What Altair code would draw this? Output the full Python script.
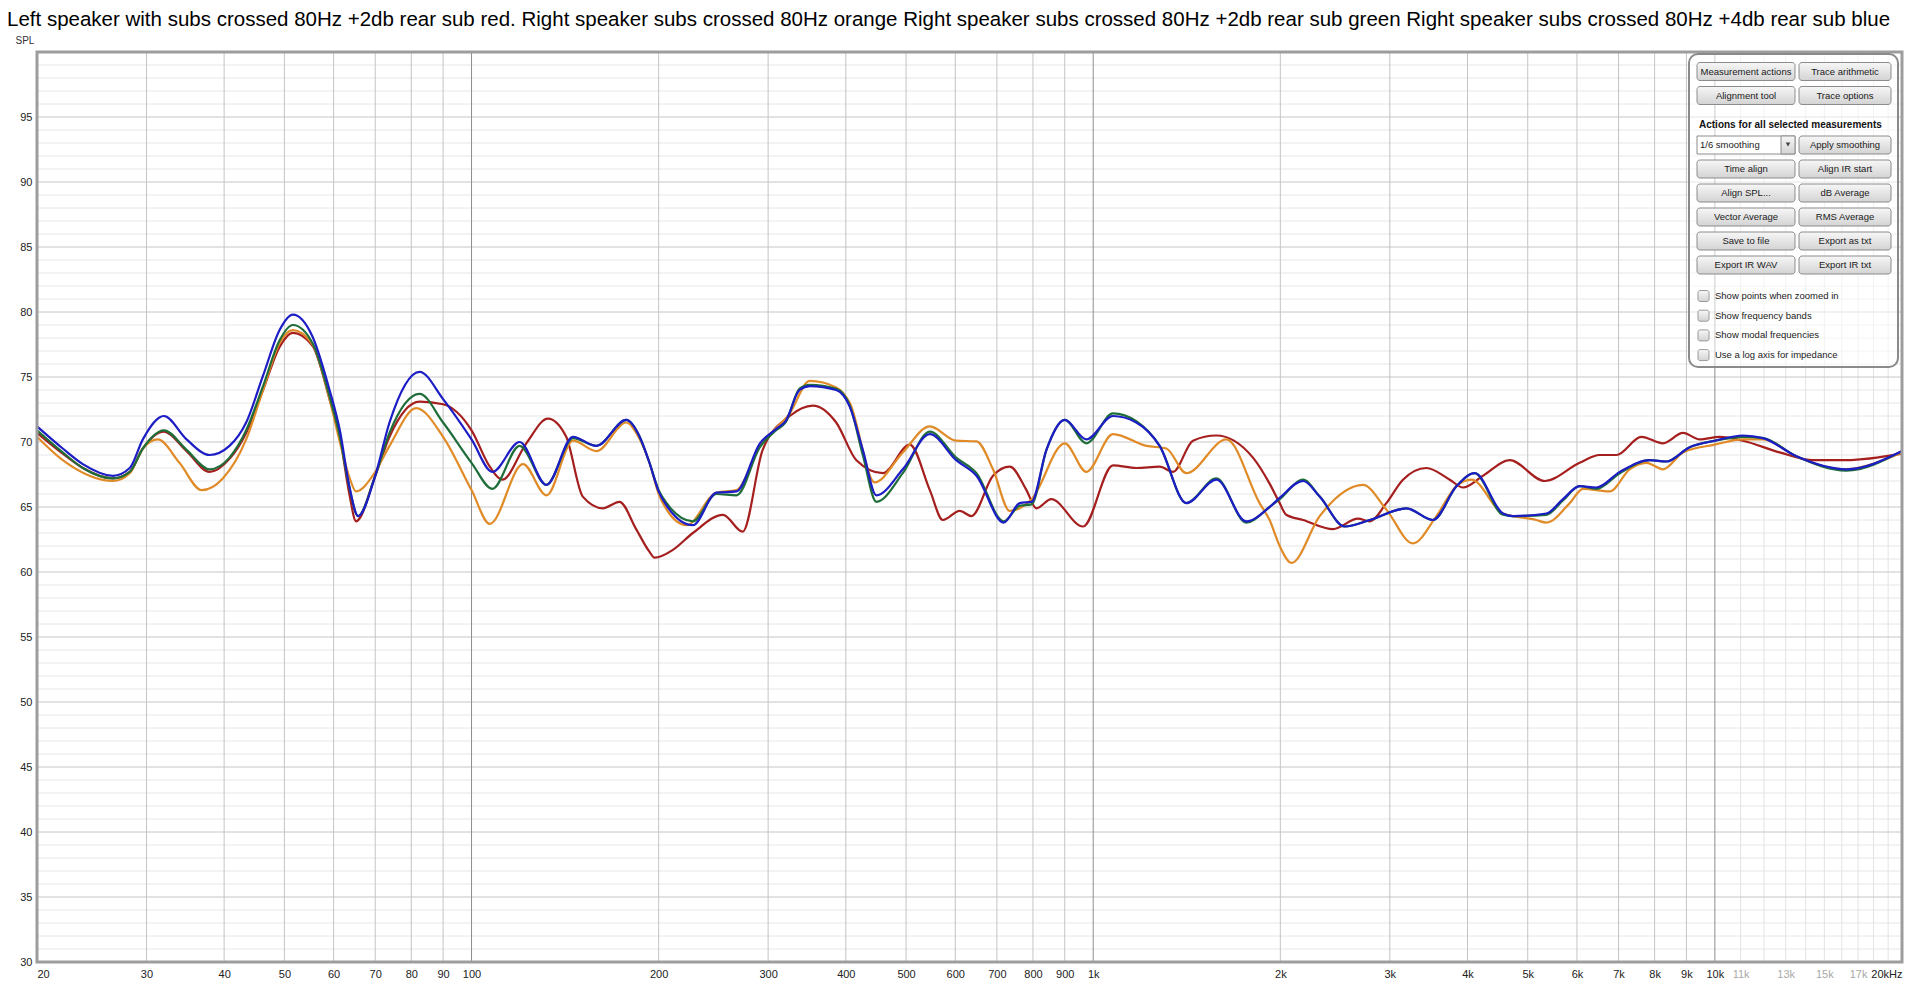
import altair as alt
import pandas as pd

alt.data_transformers.disable_max_rows()

TITLE = ("Left speaker with subs crossed 80Hz +2db rear sub red. Right speaker subs crossed 80Hz orange "
         "Right speaker subs crossed 80Hz +2db rear sub green Right speaker subs crossed 80Hz +4db rear sub blue")

series_names = ["Left +2db rear sub (red)", "Right (orange)", "Right +2db rear sub (green)", "Right +4db rear sub (blue)"]
series_colors = ["#a51f1f", "#e08b27", "#1f6e3a", "#1d1dc6"]

red_freq = [20, 22, 23.7, 26.5, 28.2, 29.6, 32, 34.8, 37.9, 40.8,
            43.4, 46.2, 49.1, 51.6, 55.5, 59.1, 61.4, 63.6, 65.2, 70,
            73.8, 82.5, 90, 100, 107, 112, 122.5, 132.7, 142, 151,
            162.7, 173, 184, 193, 197, 210.8, 227, 253.8, 273, 294,
            325, 354, 386, 416, 459, 507, 546, 573, 610, 637,
            690, 734, 781, 810, 856, 963, 1076, 1173, 1279, 1344,
            1447, 1578, 1807, 1922, 1995, 2044, 2176, 2431, 2667, 2785,
            2962, 3150, 3435, 3746, 3934, 4236, 4676, 5325, 6060, 6528,
            6942, 7618, 8253, 8888, 9452, 10178, 11098, 12712, 14384, 16276,
            20000]
red_spl = [70.7, 69.1, 68.0, 67.2, 67.7, 69.5, 70.8, 69.3, 67.7, 68.7,
           70.7, 74.0, 77.3, 78.4, 77.4, 73.3, 70.4, 66.0, 63.9, 67.4,
           70.4, 73.1, 72.9, 70.9, 68.1, 67.1, 69.9, 71.8, 70.4, 65.8,
           64.9, 65.4, 63.3, 61.6, 61.1, 61.7, 63.0, 64.4, 63.1, 69.4,
           72.0, 72.8, 71.5, 68.6, 67.6, 69.8, 66.3, 64.0, 64.7, 64.3,
           67.4, 68.1, 66.3, 64.9, 65.6, 63.5, 68.2, 68.0, 68.1, 67.7,
           70.1, 70.5, 68.8, 66.8, 65.3, 64.4, 64.0, 63.3, 64.1, 63.9,
           65.3, 67.1, 68.0, 67.1, 66.5, 67.4, 68.6, 67.0, 68.4, 69.0,
           69.0, 70.4, 69.9, 70.7, 70.2, 70.4, 70.1, 69.2, 68.6, 68.6,
           69.1]

orange_freq = [20, 22, 26.5, 28.2, 29.6, 31.3, 33.9, 36.8, 39.8, 43.4,
               46.2, 49.1, 51.6, 55.5, 59.1, 61.4, 63.6, 65.2, 70, 73.8,
               81.5, 90, 100, 107, 121, 132, 145.6, 158.8, 177.4, 186,
               193, 200, 206, 221.7, 247.6, 266.8, 291, 325, 350, 386,
               406, 445, 494, 546, 602, 649, 690, 734, 796, 900,
               975, 1076, 1218, 1311, 1412, 1638, 1852, 1922, 1995, 2084,
               2314, 2716, 2962, 3268, 3565, 3840, 4058, 4562, 5162, 5357,
               5843, 6136, 6775, 7293, 7760, 8253, 8888, 10000, 11098, 11953,
               13524, 16070, 20000]
orange_spl = [70.4, 68.6, 67.0, 67.6, 69.5, 70.2, 68.4, 66.3, 67.2, 70.2,
              74.0, 77.6, 78.6, 77.5, 73.3, 70.0, 67.3, 66.2, 67.7, 69.7,
              72.6, 70.4, 66.3, 63.7, 68.3, 65.9, 70.1, 69.3, 71.5, 70.3,
              68.5, 66.0, 64.8, 63.6, 66.1, 66.3, 69.7, 72.2, 74.7, 74.2,
              73.0, 66.9, 69.2, 71.2, 70.1, 70.05, 67.9, 64.7, 65.6, 69.9,
              67.7, 70.6, 69.7, 69.5, 67.6, 70.2, 65.3, 64.0, 62.0, 60.7,
              64.3, 66.7, 64.8, 62.2, 64.3, 66.6, 67.1, 64.5, 64.0, 63.8,
              65.3, 66.4, 66.2, 67.9, 68.4, 67.9, 69.2, 69.8, 70.2, 70.2,
              68.9, 67.9, 69.2]

green_freq = [20, 22, 23.7, 26.5, 28.2, 29.6, 32, 34.8, 37.9, 40.8,
              43.4, 46.2, 49.1, 51.6, 55.5, 59.1, 61.4, 63.6, 65.7, 70,
              73.8, 82.5, 90, 100, 108, 119.5, 132, 145.6, 158.8, 177.4,
              186, 193, 200, 206, 227, 247.6, 266.8, 291, 309, 320,
              337, 350, 386, 406, 426, 448, 494, 546, 602, 649,
              718, 762, 796, 841, 900, 975, 1076, 1173, 1279, 1412,
              1578, 1763, 1922, 1995, 2176, 2314, 2540, 2785, 3190, 3520,
              3840, 4108, 4562, 4734, 5357, 5697, 6060, 6448, 7032, 7857,
              8356, 9108, 10000, 11098, 11953, 13524, 16276, 20000]
green_spl = [70.9, 69.2, 68.0, 67.2, 67.7, 69.5, 70.9, 69.4, 67.9, 68.8,
             70.9, 74.3, 77.8, 79.0, 77.6, 73.5, 70.4, 66.5, 64.3, 67.4,
             70.7, 73.7, 71.5, 68.4, 66.4, 69.7, 66.7, 70.3, 69.7, 71.7,
             70.5, 68.5, 66.3, 65.3, 63.9, 66.0, 65.9, 69.6, 70.9, 71.5,
             74.1, 74.4, 74.1, 72.8, 69.0, 65.4, 67.6, 70.8, 68.8, 67.6,
             63.9, 65.1, 65.2, 69.4, 71.7, 69.9, 72.2, 71.6, 69.7, 65.3,
             67.2, 63.8, 65.0, 65.6, 67.1, 65.8, 63.5, 64.0, 64.9, 64.0,
             66.6, 67.6, 64.4, 64.3, 64.4, 65.5, 66.6, 66.4, 67.6, 68.6,
             68.5, 69.6, 70.1, 70.4, 70.3, 68.9, 67.8, 69.3]

blue_freq = [20, 22, 23.7, 26.5, 28.2, 29.6, 32, 34.8, 37.9, 40.8,
             43.4, 46.2, 49.1, 51.6, 55.5, 59.1, 61.4, 63.6, 65.7, 70,
             73.8, 82.5, 90, 100, 108, 119.5, 132, 145.6, 158.8, 177.4,
             186, 193, 200, 206, 227, 247.6, 266.8, 291, 309, 320,
             337, 350, 386, 406, 426, 448, 494, 546, 602, 649,
             718, 762, 796, 841, 900, 975, 1076, 1173, 1279, 1412,
             1578, 1763, 1922, 1995, 2176, 2314, 2540, 2785, 3190, 3520,
             3840, 4108, 4562, 4734, 5357, 5697, 6060, 6448, 7032, 7857,
             8356, 9108, 10000, 11098, 11953, 13524, 16276, 20000]
blue_spl = [71.2, 69.5, 68.3, 67.4, 68.0, 70.2, 72.0, 70.2, 69.0, 69.7,
            71.5, 75.1, 78.6, 79.8, 78.1, 74.0, 70.9, 66.6, 64.3, 67.4,
            71.5, 75.4, 73.3, 70.2, 67.7, 70.0, 66.7, 70.4, 69.7, 71.7,
            70.5, 68.5, 66.2, 65.1, 63.6, 66.1, 66.2, 69.9, 71.0, 71.6,
            74.0, 74.3, 74.0, 72.7, 69.4, 65.9, 67.9, 70.6, 68.6, 67.4,
            63.8, 65.3, 65.4, 69.4, 71.7, 70.2, 72.0, 71.5, 69.7, 65.3,
            67.1, 63.9, 65.0, 65.7, 67.0, 65.8, 63.5, 64.0, 64.9, 64.0,
            66.6, 67.6, 64.5, 64.3, 64.5, 65.6, 66.6, 66.5, 67.7, 68.6,
            68.5, 69.6, 70.1, 70.5, 70.3, 68.9, 67.9, 69.3]

x_tick_values = [20, 30, 40, 50, 60, 70, 80, 90, 100, 200, 300, 400, 500, 600, 700, 800, 900,
                 1000, 2000, 3000, 4000, 5000, 6000, 7000, 8000, 9000, 10000, 20000]
x_fine_values = [11000, 12000, 13000, 14000, 15000, 16000, 17000, 18000, 19000]
x_fine_labels = [11000, 13000, 15000, 17000]
x_decades = [100, 1000, 10000]
y_tick_values = [30, 35, 40, 45, 50, 55, 60, 65, 70, 75, 80, 85, 90, 95]

panel_top_buttons = [("Measurement actions", "Trace arithmetic"), ("Alignment tool", "Trace options")]
panel_heading = "Actions for all selected measurements"
panel_dropdown = "1/6 smoothing"
panel_apply = "Apply smoothing"
panel_buttons = [("Time align", "Align IR start"), ("Align SPL...", "dB Average"),
                 ("Vector Average", "RMS Average"), ("Save to file", "Export as txt"),
                 ("Export IR WAV", "Export IR txt")]
panel_checks = ["Show points when zoomed in", "Show frequency bands",
                "Show modal frequencies", "Use a log axis for impedance"]

# ---------------------------------------------------------------
W, H = 1865, 910
FONT = "Liberation Sans"

xscale = alt.Scale(type="log", domain=[20, 20000], nice=False)
yscale = alt.Scale(domain=[30, 100], nice=False, zero=False)

x_axis = alt.Axis(
    values=x_tick_values + x_fine_labels,
    labelExpr="datum.value >= 20000 ? '20kHz' : (datum.value >= 1000 ? (datum.value / 1000) + 'k' : datum.value + '')",
    labelColor={"condition": {"test": "datum.value > 10000 && datum.value < 20000", "value": "#a8a8a8"},
                "value": "#222222"},
    labelFlush=True, labelFont=FONT, labelFontSize=11, labelPadding=6,
    domain=False, ticks=False, grid=False, title=None, labelOverlap=False,
)
y_axis = alt.Axis(
    values=y_tick_values, labelFont=FONT, labelFontSize=11, labelColor="#222222",
    labelPadding=5, domain=False, ticks=False, grid=False,
    title="SPL", titleAngle=0, titleX=-22, titleY=-12, titleAlign="left", titleBaseline="middle",
    titleFont=FONT, titleFontSize=10, titleFontWeight="normal", titleColor="#333333",
)


def X(field):
    return alt.X(field, type="quantitative", scale=xscale, axis=x_axis)


def Y(field):
    return alt.Y(field, type="quantitative", scale=yscale, axis=y_axis)


layers = []

# horizontal grid
y_minor = [v for v in range(31, 100) if v % 5]
y_major = [v for v in range(35, 100, 5)]
layers.append(alt.Chart(pd.DataFrame({"db": y_minor})).mark_rule(color="#e6e6e6", strokeWidth=1).encode(y=Y("db")))
# vertical fine grid 11k..19k
layers.append(alt.Chart(pd.DataFrame({"f": x_fine_values})).mark_rule(color="#e3e3e3", strokeWidth=1).encode(x=X("f")))
layers.append(alt.Chart(pd.DataFrame({"db": y_major})).mark_rule(color="#c6c6c6", strokeWidth=1).encode(y=Y("db")))
x_major = [v for v in x_tick_values if v not in x_decades and v not in (20, 20000)]
layers.append(alt.Chart(pd.DataFrame({"f": x_major})).mark_rule(color="#c4c4c4", strokeWidth=1).encode(x=X("f")))
layers.append(alt.Chart(pd.DataFrame({"f": x_decades})).mark_rule(color="#8e8e8e", strokeWidth=1).encode(x=X("f")))

# curves (red, orange, green, blue - blue on top)
for name, color, fr, sp in zip(series_names, series_colors,
                                [red_freq, orange_freq, green_freq, blue_freq],
                                [red_spl, orange_spl, green_spl, blue_spl]):
    df = pd.DataFrame({"freq": fr, "spl": sp, "series": name})
    layers.append(
        alt.Chart(df).mark_line(color=color, strokeWidth=2.2, interpolate="monotone")
        .encode(x=X("freq"), y=Y("spl"), detail="series:N")
    )

# plot frame
one = pd.DataFrame({"k": [0]})
layers.append(
    alt.Chart(one).mark_rect(filled=False, stroke="#9d9d9d", strokeWidth=3)
    .encode(x=alt.value(0), x2=alt.value(W), y=alt.value(0), y2=alt.value(H))
)

# ---------------- control panel (REW overlay) ----------------
PX0, PX1, PY0, PY1 = 1652, 1861, 2, 315
LX0, LX1, RX0, RX1 = 1660, 1758, 1762, 1854
BH = 18
btn_grad = {"gradient": "linear", "x1": 0, "y1": 0, "x2": 0, "y2": 1,
            "stops": [{"offset": 0, "color": "#f7f7f7"}, {"offset": 1, "color": "#d3d3d3"}]}

layers.append(
    alt.Chart(one).mark_rect(cornerRadius=9, fill="#ffffff", fillOpacity=0.55, stroke="#8a8a8a", strokeWidth=2)
    .encode(x=alt.value(PX0), x2=alt.value(PX1), y=alt.value(PY0), y2=alt.value(PY1))
)

rows = []
for i, (a, b) in enumerate(panel_top_buttons):
    y0 = 10.5 + 24 * i
    rows.append((a, LX0, LX1, y0))
    rows.append((b, RX0, RX1, y0))
rows.append((panel_apply, RX0, RX1, 84))
for i, (a, b) in enumerate(panel_buttons):
    y0 = 108 + 24 * i
    rows.append((a, LX0, LX1, y0))
    rows.append((b, RX0, RX1, y0))
btn_df = pd.DataFrame({
    "label": [r[0] for r in rows],
    "x0": [r[1] for r in rows], "x1": [r[2] for r in rows],
    "y0": [r[3] for r in rows], "y1": [r[3] + BH for r in rows],
    "xc": [(r[1] + r[2]) / 2 for r in rows], "yc": [r[3] + BH / 2 for r in rows],
})
PXs = lambda f: alt.X(f, type="quantitative", scale=None, axis=None)
PYs = lambda f: alt.Y(f, type="quantitative", scale=None, axis=None)

layers.append(
    alt.Chart(btn_df).mark_rect(cornerRadius=3, fill=btn_grad, stroke="#8c8c8c", strokeWidth=1)
    .encode(x=PXs("x0"), x2="x1:Q", y=PYs("y0"), y2="y1:Q")
)
layers.append(
    alt.Chart(btn_df).mark_text(font=FONT, fontSize=9.5, color="#1a1a1a", baseline="middle", align="center")
    .encode(x=PXs("xc"), y=PYs("yc"), text="label:N")
)

# heading
layers.append(
    alt.Chart(pd.DataFrame({"t": [panel_heading]})).mark_text(
        font=FONT, fontSize=10, fontWeight="bold", color="#111111", align="left", baseline="middle")
    .encode(x=alt.value(1662), y=alt.value(73), text="t:N")
)
# dropdown
layers.append(
    alt.Chart(one).mark_rect(fill="#ffffff", stroke="#8c8c8c", strokeWidth=1)
    .encode(x=alt.value(LX0), x2=alt.value(LX1), y=alt.value(84), y2=alt.value(84 + BH))
)
layers.append(
    alt.Chart(one).mark_rect(fill=btn_grad, stroke="#8c8c8c", strokeWidth=1)
    .encode(x=alt.value(1744), x2=alt.value(LX1), y=alt.value(84), y2=alt.value(84 + BH))
)
layers.append(
    alt.Chart(one).mark_point(shape="triangle-down", filled=True, color="#444444", size=22, opacity=1)
    .encode(x=alt.value(1751), y=alt.value(92.5))
)
layers.append(
    alt.Chart(pd.DataFrame({"t": [panel_dropdown]})).mark_text(
        font=FONT, fontSize=9.5, color="#1a1a1a", align="left", baseline="middle")
    .encode(x=alt.value(1663), y=alt.value(93), text="t:N")
)
# checkboxes
chk_df = pd.DataFrame({
    "label": panel_checks,
    "yc": [244 + 19.7 * i for i in range(len(panel_checks))],
})
chk_df["y0"] = chk_df["yc"] - 5.5
chk_df["y1"] = chk_df["yc"] + 5.5
chk_df["x0"] = 1661
chk_df["x1"] = 1672
chk_df["xt"] = 1678
layers.append(
    alt.Chart(chk_df).mark_rect(cornerRadius=2, fill=btn_grad, stroke="#9a9a9a", strokeWidth=1)
    .encode(x=PXs("x0"), x2="x1:Q", y=PYs("y0"), y2="y1:Q")
)
layers.append(
    alt.Chart(chk_df).mark_text(font=FONT, fontSize=9.5, color="#1a1a1a", align="left", baseline="middle")
    .encode(x=PXs("xt"), y=PYs("yc"), text="label:N")
)

chart = (
    alt.layer(*layers)
    .properties(
        width=W, height=H,
        padding={"left": 29, "top": 44, "right": 10, "bottom": 22},
        autosize=alt.AutoSizeParams(type="none"),
        title=alt.TitleParams(TITLE, anchor="start", frame="group", dx=-30, font=FONT, fontSize=20.5,
                              fontWeight="normal", color="#000000", offset=5),
        background="#ffffff",
    )
    .configure_view(strokeWidth=0)
)

chart.save("out.html", embed_options={"renderer": "svg", "actions": False})
